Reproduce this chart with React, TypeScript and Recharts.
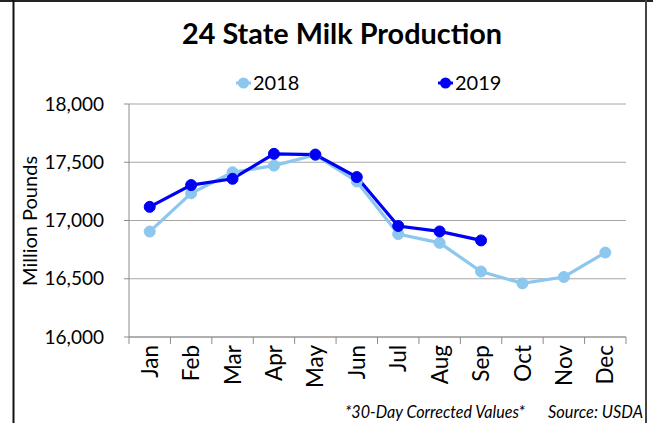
import React from 'react';
import { LineChart, Line, XAxis, YAxis, CartesianGrid } from 'recharts';

const months = ['Jan', 'Feb', 'Mar', 'Apr', 'May', 'Jun', 'Jul', 'Aug', 'Sep', 'Oct', 'Nov', 'Dec'];
const values2018 = [16905, 17233, 17414, 17471, 17562, 17335, 16884, 16808, 16562, 16460, 16515, 16725];
const values2019 = [17117, 17304, 17358, 17572, 17566, 17373, 16953, 16906, 16829];
const yTicks = [16000, 16500, 17000, 17500, 18000];
const xBoundaries = [0, 1, 2, 3, 4, 5, 6, 7, 8, 9, 10, 11, 12];

const series = [
  { key: 's2018', name: '2018', color: '#8DC7EE' },
  { key: 's2019', name: '2019', color: '#0000F5' },
];

const data = months.map((m, i) => ({
  x: i + 0.5,
  month: m,
  s2018: values2018[i] ?? null,
  s2019: values2019[i] ?? null,
}));

const W = 653;
const H = 423;
const M = { top: 104, right: 27, bottom: 0, left: 0 };
const Y_AXIS_W = 129;
const X_AXIS_H = 86;
const PLOT_W = W - M.left - M.right - Y_AXIS_W;
const HALF_BAND = PLOT_W / 24;
const FONT = 'Lato, "Noto Sans", sans-serif';

const fmt = (v: number) => v.toLocaleString('en-US');

const XTick = (props: any) => {
  const { x, y, payload } = props;
  const v = Math.round(payload.value);
  if (v >= months.length) return <g />;
  const cx = x + HALF_BAND;
  return (
    <text
      x={cx}
      y={y}
      transform={`rotate(-90, ${cx}, ${y})`}
      textAnchor="end"
      dy="0.36em"
      fontSize={22.5}
      fontFamily={FONT}
      fill="#000"
    >
      {months[v]}
    </text>
  );
};

export default function App() {
  const legendX = [236, 438];
  return (
    <div style={{ position: 'absolute', left: 0, top: 0, width: W, height: H, background: '#fff', overflow: 'hidden' }}>
      <LineChart width={W} height={H} data={data} margin={M}>
        <CartesianGrid vertical={false} stroke="#A6A6A6" strokeWidth={1} />
        <XAxis
          dataKey="x"
          type="number"
          domain={[0, 12]}
          ticks={xBoundaries}
          interval={0}
          height={X_AXIS_H}
          tickSize={7}
          tickMargin={1}
          stroke="#8C8C8C"
          tick={XTick}
          allowDataOverflow
        />
        <YAxis
          domain={[16000, 18000]}
          ticks={yTicks}
          interval={0}
          width={Y_AXIS_W}
          tickSize={5}
          tickMargin={20}
          stroke="#8C8C8C"
          tickFormatter={fmt}
          tick={{ fill: '#000', fontSize: 19, fontFamily: FONT }}
          allowDataOverflow
        />
        {series.map((s) => (
          <Line
            key={s.key}
            dataKey={s.key}
            name={s.name}
            stroke={s.color}
            strokeWidth={3.2}
            dot={{ r: 5.5, fill: s.color, stroke: s.color, strokeWidth: 1 }}
            isAnimationActive={false}
            connectNulls={false}
          />
        ))}
      </LineChart>
      <svg width={W} height={H} style={{ position: 'absolute', left: 0, top: 0, pointerEvents: 'none' }}>
        <line x1={0} y1={1} x2={W} y2={1} stroke="#222" strokeWidth={2} />
        <line x1={13.5} y1={0} x2={13.5} y2={H} stroke="#111" strokeWidth={2} />
        <line x1={646} y1={0} x2={646} y2={H} stroke="#444" strokeWidth={2} />
        <text
          x={342}
          y={44}
          textAnchor="middle"
          fontSize={28}
          fontWeight="bold"
          fontFamily={FONT}
          textLength={320}
          lengthAdjust="spacingAndGlyphs"
          fill="#000"
        >
          24 State Milk Production
        </text>
        {series.map((s, i) => (
          <g key={s.key}>
            <line x1={legendX[i]} y1={83} x2={legendX[i] + 15} y2={83} stroke={s.color} strokeWidth={3} />
            <circle cx={legendX[i] + 7.5} cy={83} r={5.5} fill={s.color} />
            <text x={legendX[i] + 17} y={83} dy="0.36em" fontSize={20} fontFamily={FONT} fill="#000">
              {s.name}
            </text>
          </g>
        ))}
        <text
          x={30}
          y={221}
          transform="rotate(-90, 30, 221)"
          textAnchor="middle"
          dy="0.36em"
          fontSize={20}
          fontFamily={FONT}
          fill="#000"
        >
          Million Pounds
        </text>
        <text x={345} y={418} fontSize={17} fontStyle="italic" fontFamily={FONT} fill="#000" textLength={180} lengthAdjust="spacingAndGlyphs">
          *30-Day Corrected Values*
        </text>
        <text x={548} y={418} fontSize={17} fontStyle="italic" fontFamily={FONT} fill="#000" textLength={95} lengthAdjust="spacingAndGlyphs">
          Source: USDA
        </text>
      </svg>
    </div>
  );
}
